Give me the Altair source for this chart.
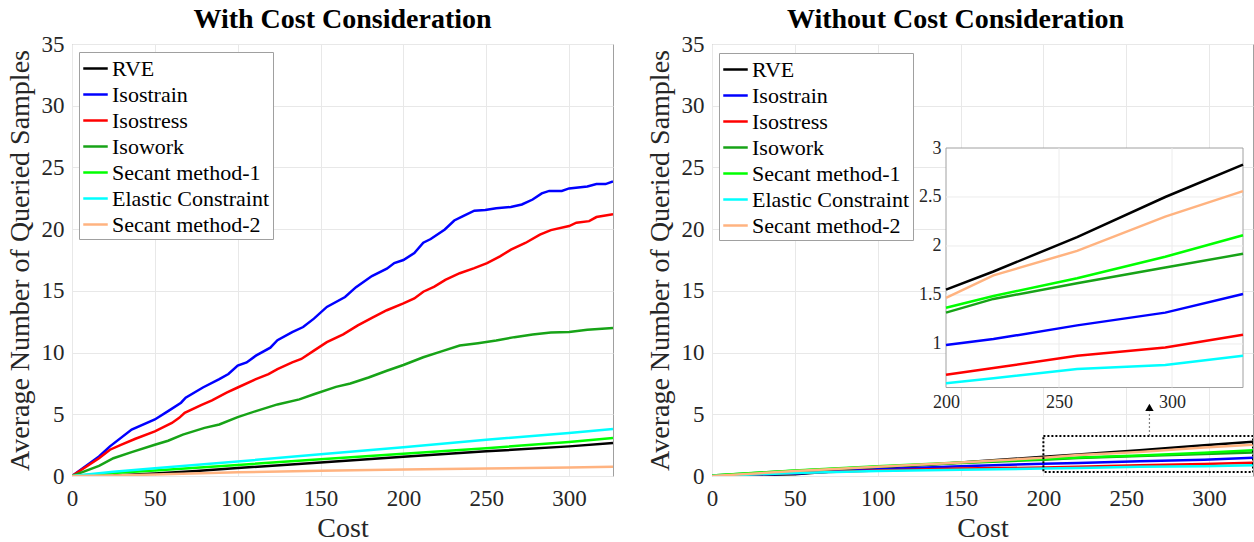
import altair as alt
import pandas as pd

FONT = "Liberation Serif"

methods = ["RVE", "Isostrain", "Isostress", "Isowork", "Secant method-1",
           "Elastic Constraint", "Secant method-2"]
colors = ["#000000", "#0000ff", "#ff0000", "#17a317", "#00ff00", "#00ffff", "#ffb380"]

# ---------------- Left panel: With Cost Consideration ----------------
left_isostrain_x = [0, 16.3, 22.9, 36, 50, 58, 65.8, 68.6, 79, 88.9, 94.4, 100, 105.4, 111,
                    119.7, 124, 132.9, 139.5, 146, 153.8, 164.8, 171.4, 181, 190, 194.5, 200,
                    206.6, 212, 216.5, 225, 230.7, 236, 242.8, 249.4, 256, 264.8, 271.5, 278,
                    283.5, 288, 295.6, 300, 311, 316.5, 322, 326.5]
left_isostrain_y = [0, 1.58, 2.4, 3.76, 4.58, 5.26, 5.94, 6.35, 7.17, 7.85, 8.26, 8.94, 9.2,
                    9.75, 10.4, 11.0, 11.66, 12.07, 12.75, 13.7, 14.5, 15.3, 16.2, 16.8, 17.25,
                    17.5, 18.06, 18.9, 19.2, 19.97, 20.7, 21.06, 21.5, 21.55, 21.7, 21.8, 22.0,
                    22.4, 22.9, 23.1, 23.1, 23.3, 23.46, 23.65, 23.65, 23.87]
left_isostress_x = [0, 16.3, 22.9, 29.5, 38.3, 50, 60.3, 64.7, 68, 77.9, 84.5, 93.3, 100, 111,
                    118.6, 124, 132.9, 138.4, 146, 153.8, 163.7, 172.5, 181.3, 190, 200, 206.6,
                    212, 218.7, 225.3, 234, 242.8, 250.5, 258.3, 264.9, 273.6, 282.4, 289, 300,
                    304.4, 312.1, 316.5, 326.5]
left_isostress_y = [0, 1.44, 2.13, 2.53, 3.02, 3.62, 4.3, 4.71, 5.12, 5.75, 6.13, 6.76, 7.17,
                    7.85, 8.26, 8.66, 9.2, 9.48, 10.16, 10.84, 11.47, 12.2, 12.83, 13.43, 13.98,
                    14.39, 14.93, 15.34, 15.89, 16.43, 16.84, 17.25, 17.8, 18.34, 18.88, 19.56,
                    19.92, 20.25, 20.52, 20.65, 20.98, 21.2]
left_isowork_x = [0, 16.3, 25, 36, 50, 58, 66.9, 80, 88.9, 100, 111, 124, 137.2, 146, 159.3,
                  168, 179, 190, 200, 212, 223, 234, 245, 256, 267, 278, 289, 300, 311, 326.5]
left_isowork_y = [0, 0.82, 1.44, 1.93, 2.53, 2.86, 3.35, 3.9, 4.17, 4.77, 5.26, 5.8, 6.21,
                  6.62, 7.22, 7.49, 7.98, 8.53, 8.99, 9.62, 10.1, 10.57, 10.76, 10.98, 11.25,
                  11.47, 11.63, 11.66, 11.85, 11.99]
left_elastic_x = [0, 25, 50, 100, 150, 200, 250, 300, 326.5]
left_elastic_y = [0, 0.35, 0.63, 1.17, 1.77, 2.32, 2.94, 3.49, 3.81]
left_secant1_x = [0, 25, 50, 100, 150, 200, 250, 300, 326.5]
left_secant1_y = [0, 0.25, 0.45, 0.9, 1.35, 1.8, 2.25, 2.75, 3.08]
left_rve_x = [0, 25, 50, 75, 100, 150, 200, 250, 300, 326.5]
left_rve_y = [0, 0.05, 0.2, 0.4, 0.65, 1.1, 1.55, 2.0, 2.4, 2.67]
left_secant2_x = [0, 25, 50, 100, 150, 200, 250, 300, 326.5]
left_secant2_y = [0, 0.05, 0.12, 0.3, 0.42, 0.52, 0.6, 0.68, 0.74]

# ---------------- Right panel: Without Cost Consideration ----------------
right_x = [0, 50, 100, 150, 200, 221, 258, 297, 331.4]
right_rve_y = [0, 0.15, 0.65, 1.1, 1.555, 1.74, 2.09, 2.5, 2.83]
right_isostrain_y = [0, 0.2, 0.55, 0.8, 0.99, 1.05, 1.19, 1.32, 1.51]
right_isostress_y = [0, 0.25, 0.45, 0.6, 0.685, 0.755, 0.88, 0.965, 1.095]
right_isowork_y = [0.05, 0.42, 0.75, 1.05, 1.32, 1.46, 1.62, 1.78, 1.92]
right_secant1_y = [0.05, 0.45, 0.8, 1.1, 1.37, 1.49, 1.67, 1.89, 2.11]
right_elastic_y = [0, 0.25, 0.4, 0.5, 0.6, 0.65, 0.745, 0.785, 0.88]
right_secant2_y = [0, 0.4, 0.75, 1.1, 1.47, 1.70, 1.95, 2.30, 2.56]

x_ticks = [0, 50, 100, 150, 200, 250, 300]
y_ticks = [0, 5, 10, 15, 20, 25, 30, 35]
inset_x_ticks = [200, 250, 300]
inset_y_ticks = [1, 1.5, 2, 2.5, 3]
zoom_box = {"x": [200], "x2": [326.5], "y": [0.32], "y2": [3.24]}
arrow_stem = {"x": [264], "y": [3.24], "y2": [5.2]}
arrow_head = {"x": [264], "y": [5.55]}

X_MAX = 326.5
INSET_X = [200, 331.4]
INSET_Y = [0.556, 3]
W, H = 541, 432
IX_RANGE = [234, 531]
IY_RANGE = [343.5, 104]


def frame(pairs):
    rows = []
    for m, xs, ys in pairs:
        for i, (a, b) in enumerate(zip(xs, ys)):
            rows.append({"method": m, "cost": a, "value": b, "i": i})
    return pd.DataFrame(rows)


left_df = frame([
    ("RVE", left_rve_x, left_rve_y),
    ("Isostrain", left_isostrain_x, left_isostrain_y),
    ("Isostress", left_isostress_x, left_isostress_y),
    ("Isowork", left_isowork_x, left_isowork_y),
    ("Secant method-1", left_secant1_x, left_secant1_y),
    ("Elastic Constraint", left_elastic_x, left_elastic_y),
    ("Secant method-2", left_secant2_x, left_secant2_y),
])
right_df = frame([
    ("RVE", right_x, right_rve_y),
    ("Isostrain", right_x, right_isostrain_y),
    ("Isostress", right_x, right_isostress_y),
    ("Isowork", right_x, right_isowork_y),
    ("Secant method-1", right_x, right_secant1_y),
    ("Elastic Constraint", right_x, right_elastic_y),
    ("Secant method-2", right_x, right_secant2_y),
])

color_scale = alt.Scale(domain=methods, range=colors)


def legend(ly):
    return alt.Legend(title=None, orient="none", legendX=7, legendY=ly,
                      symbolType="stroke", symbolStrokeWidth=2.5, symbolSize=600,
                      labelFont=FONT, labelFontSize=22, labelColor="black",
                      strokeColor="#a0a0a0", fillColor="white", padding=3,
                      rowPadding=1, labelOffset=3, labelLimit=400)


def main_x():
    return alt.X("cost:Q", scale=alt.Scale(domain=[0, X_MAX], nice=False, zero=False),
                 axis=alt.Axis(values=x_ticks, title="Cost", orient="bottom"))


def main_y():
    return alt.Y("value:Q", scale=alt.Scale(domain=[0, 35], nice=False),
                 axis=alt.Axis(values=y_ticks, title="Average Number of Queried Samples",
                               orient="left"))


inset_x_axis = alt.Axis(values=inset_x_ticks, orient="bottom", offset=-(H - IY_RANGE[0]),
                        title=None, grid=False, domain=False, labelFontSize=18,
                        labelPadding=6, labelFlush=False, zindex=2)
inset_y_axis = alt.Axis(values=inset_y_ticks, orient="left", offset=-IX_RANGE[0], format="~g",
                        title=None, grid=False, domain=False, labelFontSize=18,
                        labelPadding=5, labelFlush=False, zindex=2)


def inset_x(f):
    return alt.X(f, scale=alt.Scale(domain=INSET_X, range=IX_RANGE, nice=False, zero=False),
                 axis=inset_x_axis)


def inset_y(f):
    return alt.Y(f, scale=alt.Scale(domain=INSET_Y, range=IY_RANGE, nice=False, zero=False),
                 axis=inset_y_axis)


title_kw = dict(font=FONT, fontSize=28, fontWeight="bold", color="black", offset=-1)

left = alt.Chart(left_df).mark_line(strokeWidth=2.5, clip=True).encode(
    x=main_x(), y=main_y(),
    color=alt.Color("method:N", scale=color_scale, legend=legend(8)),
    order="i:Q",
).properties(width=W, height=H,
             title=alt.TitleParams("With Cost Consideration", **title_kw))

# right panel main layer
r_lines = alt.Chart(right_df).mark_line(strokeWidth=2.5, clip=True).encode(
    x=main_x(), y=main_y(),
    color=alt.Color("method:N", scale=color_scale, legend=legend(9)),
    order="i:Q",
)
r_box = alt.Chart(pd.DataFrame(zoom_box)).mark_rect(
    fillOpacity=0, stroke="black", strokeWidth=2, strokeDash=[2, 2], clip=True
).encode(x="x:Q", x2="x2:Q", y="y:Q", y2="y2:Q")
r_stem = alt.Chart(pd.DataFrame(arrow_stem)).mark_rule(
    color="#808080", strokeWidth=1.2, strokeDash=[2, 2]
).encode(x="x:Q", y="y:Q", y2="y2:Q")
r_head = alt.Chart(pd.DataFrame(arrow_head)).mark_point(
    shape="triangle-up", filled=True, color="black", size=70, opacity=1
).encode(x="x:Q", y="y:Q")
main_group = alt.layer(r_lines, r_box, r_stem, r_head)

# inset
inset_bg = alt.Chart(pd.DataFrame({"cost": [INSET_X[0]], "x2": [INSET_X[1]],
                                   "value": [INSET_Y[0]], "y2": [INSET_Y[1]]})).mark_rect(
    fill="white", stroke="#a0a0a0", strokeWidth=1
).encode(x=inset_x("cost:Q"), x2="x2:Q", y=inset_y("value:Q"), y2="y2:Q")
inset_vgrid = alt.Chart(pd.DataFrame({"cost": [250, 300]})).mark_rule(
    color="#ececec", strokeWidth=1
).encode(x=inset_x("cost:Q"), y=alt.value(IY_RANGE[1]), y2=alt.value(IY_RANGE[0]))
inset_hgrid = alt.Chart(pd.DataFrame({"value": [1, 1.5, 2, 2.5]})).mark_rule(
    color="#ececec", strokeWidth=1
).encode(y=inset_y("value:Q"), x=alt.value(IX_RANGE[0]), x2=alt.value(IX_RANGE[1]))
inset_lines = alt.Chart(right_df[right_df.cost >= 200]).mark_line(strokeWidth=2.5).encode(
    x=inset_x("cost:Q"), y=inset_y("value:Q"),
    color=alt.Color("method:N", scale=color_scale, legend=legend(9)),
    order="i:Q",
)
inset_group = alt.layer(inset_bg, inset_vgrid, inset_hgrid, inset_lines)

right = alt.layer(main_group, inset_group).resolve_scale(
    x="independent", y="independent"
).resolve_axis(x="independent", y="independent").properties(
    width=W, height=H,
    title=alt.TitleParams("Without Cost Consideration", dx=-27, **title_kw))

chart = alt.hconcat(left, right, spacing=99, bounds="flush").resolve_scale(
    color="independent").resolve_legend(color="independent").properties(
    padding={"left": 5, "top": 5, "right": 0, "bottom": 0},
    background="white",
).configure_view(stroke="#a0a0a0", strokeWidth=1).configure_axis(
    labelFont=FONT, titleFont=FONT, labelFontSize=23, titleFontSize=28,
    labelColor="#262626", titleColor="#262626", titleFontWeight="normal",
    gridColor="#e8e8e8", gridWidth=1, domain=False, tickSize=0,
    labelPadding=8, titlePadding=7, labelFlush=False, labelOverlap=False,
).configure_axisX(labelPadding=11, titlePadding=4).configure_title(anchor="middle")

chart.save("out.html", embed_options={"renderer": "svg", "actions": False})
